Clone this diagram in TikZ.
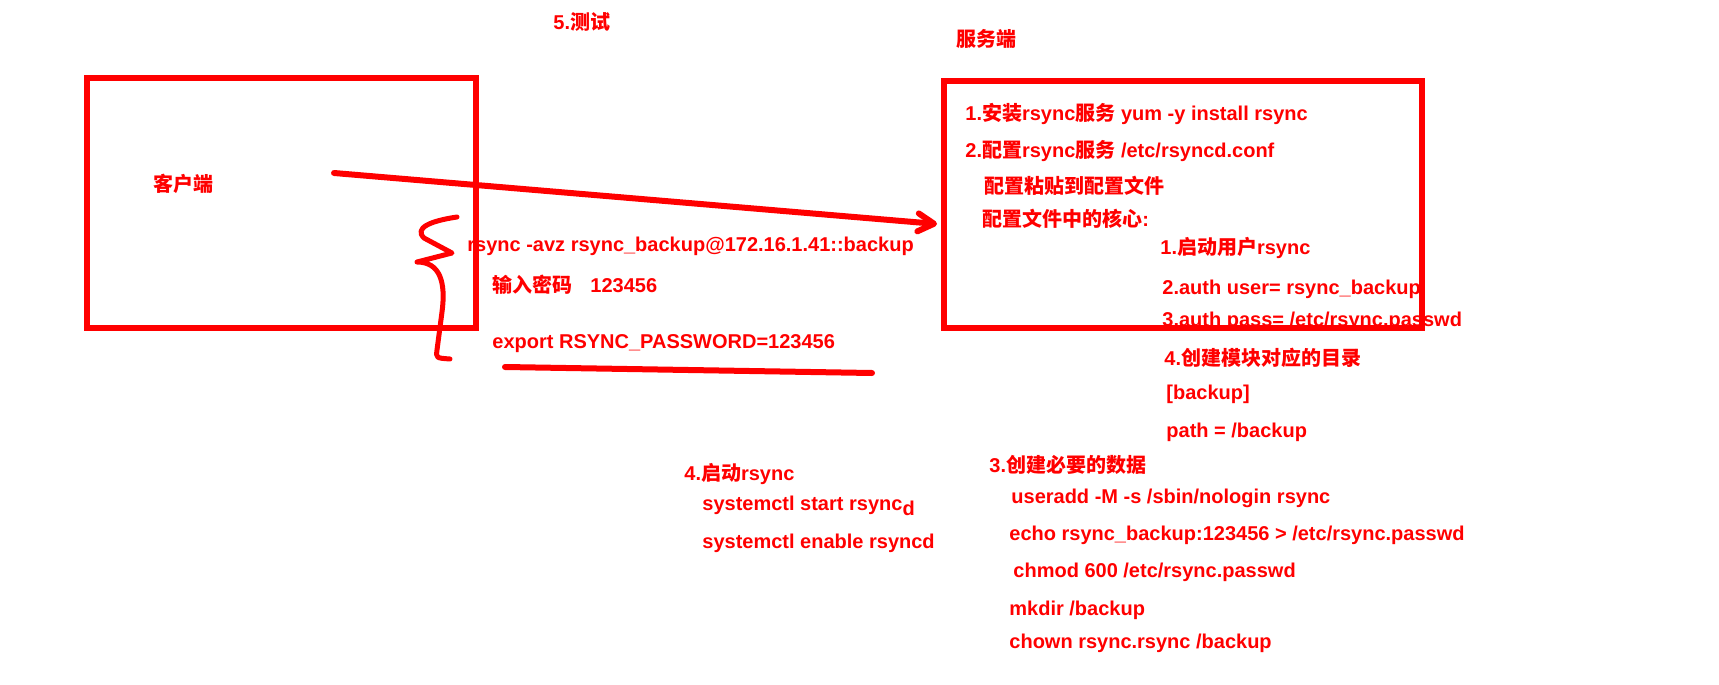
\documentclass[tikz,border=0pt]{standalone}
\usepackage{fontspec}
\setmainfont{Liberation Sans}
\newfontfamily\cjk{Noto Sans CJK SC}
\usetikzlibrary{arrows.meta}
\newcommand{\zh}[1]{{\cjk #1}}

\begin{document}
\begin{tikzpicture}[
    x=0.5pt, y=-0.5pt,
    txt/.style={anchor=west, inner sep=0pt, text=red, font=\bfseries},
    redbox/.style={draw=red, line width=3pt, inner sep=0pt},
    pen/.style={draw=red, line width=3pt, line cap=round, line join=round},
    arr/.style={pen, -{Straight Barb[length=8pt, width=9pt, round]}},
]
\useasboundingbox (0,0) rectangle (1719,685);

% Titles
\node[txt] (test) at (553,22) {5.\zh{测试}};
\node[txt] (serverlabel) at (956,39) {\zh{服务端}};
\node[txt] (clientlabel) at (153,184) {\zh{客户端}};

% Client side: test commands
\node[txt] (rsynccmd) at (467,246) {rsync -avz rsync\_backup@172.16.1.41::backup};
\node[txt] (pwd) at (492,285) {\zh{输入密码}\hspace{0.9em}123456};
\node[txt] (export) at (492,344) {export RSYNC\_PASSWORD=123456};

% Server side: install and configure
\node[txt] (inst) at (965,114) {1.\zh{安装}rsync\zh{服务} yum -y install rsync};
\node[txt] (conf) at (965,151) {2.\zh{配置}rsync\zh{服务} /etc/rsyncd.conf};
\node[txt] (paste) at (984,186) {\zh{配置粘贴到配置文件}};
\node[txt] (core) at (982,219) {\zh{配置文件中的核心}:};
\node[txt] (core1) at (1160,248) {1.\zh{启动用户}rsync};
\node[txt] (core2) at (1162,289) {2.auth user= rsync\_backup};
\node[txt] (core3) at (1162,321) {3.auth pass= /etc/rsync.passwd};
\node[txt] (core4) at (1164,358) {4.\zh{创建模块对应的目录}};
\node[txt] (core5) at (1166,394) {[backup]};
\node[txt] (core6) at (1166,432) {path = /backup};

% Server side: required data
\node[txt] (data) at (989,465) {3.\zh{创建必要的数据}};
\node[txt] (data1) at (1011,498) {useradd -M -s /sbin/nologin rsync};
\node[txt] (data2) at (1009,535) {echo rsync\_backup:123456 > /etc/rsync.passwd};
\node[txt] (data3) at (1013,572) {chmod 600 /etc/rsync.passwd};
\node[txt] (data4) at (1009,610) {mkdir /backup};
\node[txt] (data5) at (1009,643) {chown rsync.rsync /backup};

% Start the service
\node[txt] (start) at (684,474) {4.\zh{启动}rsync};
\node[txt] (start1) at (702,506) {systemctl start rsync\raisebox{-2.5pt}{d}};
\node[txt] (start2) at (702,543) {systemctl enable rsyncd};

% Boxes
\node[redbox, minimum width=194.5pt, minimum height=125pt] (client) at (281.5,203) {};
\node[redbox, minimum width=239pt, minimum height=123.5pt] (server) at (1183,204.5) {};

% Arrow client -> server
\coordinate (from) at (334,173);
\coordinate (to) at (937,224);
\draw[arr] (from) -- (to);

% Brace scribble and underline
\draw[pen, line width=2.5pt] (457,217) .. controls (430,221) and (414,228) .. (424,238)
    -- (452,253) -- (417,262) .. controls (440,262) and (446,282) .. (442,312)
    -- (437,350) .. controls (436,358) .. (450,359);
\draw[pen] (505,367) -- (872,373);

\end{tikzpicture}
\end{document}
